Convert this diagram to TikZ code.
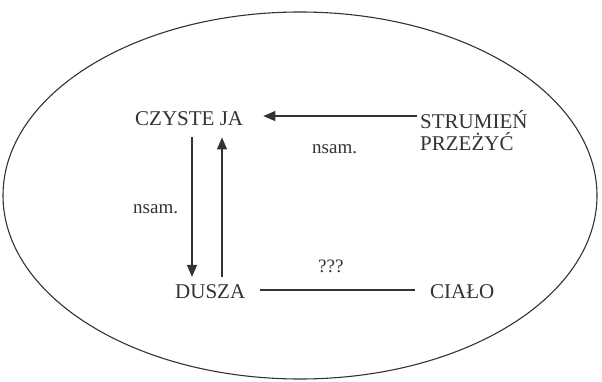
\documentclass[tikz,border=0pt]{standalone}
\usepackage{fontspec}
\setmainfont{Liberation Serif}
\usetikzlibrary{arrows.meta}
\definecolor{ink}{HTML}{333333}
\tikzset{
  label text/.style={inner sep=0pt, anchor=base west, text=ink,
    font=\fontsize{21}{22}\selectfont},
  small text/.style={inner sep=0pt, anchor=base west, text=ink,
    font=\fontsize{19}{22}\selectfont},
  arr/.style={draw=ink, line width=1.2pt, -{Triangle[length=12pt,width=10pt]}},
  plain/.style={draw=ink, line width=1.2pt},
}
\begin{document}
\begin{tikzpicture}[x=1pt,y=1pt]
  \useasboundingbox (0,0) rectangle (602,381);
  % enclosing ellipse
  \draw[draw=ink, line width=1.1pt] (300,185.5) ellipse [x radius=297, y radius=183.5];

  % concepts
  \node[label text] (cz) at (135,255) {CZYSTE JA};
  \node[label text, anchor=north west, align=left] (st) at (420,271) {STRUMIEŃ\\PRZEŻYĆ};
  \node[label text] (du) at (175,83) {DUSZA};
  \node[label text] (ci) at (430,83) {CIAŁO};

  % relation labels
  \node[small text] (n1) at (312,228) {nsam.};
  \node[small text] (n2) at (133,168) {nsam.};
  \node[small text] (q) at (318,109) {???};

  % connectors
  \draw[arr] ([xshift=-3pt,yshift=3.1pt]cz.east -| st.west) -- ([xshift=20pt,yshift=3.1pt]cz.east);
  \draw[arr] ([xshift=57pt,yshift=-11pt]cz.south west) -- ([xshift=17pt,yshift=7pt]du.north west);
  \draw[arr] ([xshift=47pt,yshift=7pt]du.north west) -- ([xshift=87pt,yshift=-11pt]cz.south west);
  \draw[plain] ([xshift=15pt,yshift=1.1pt]du.east) -- ([xshift=-15pt,yshift=1.1pt]du.east -| ci.west);
\end{tikzpicture}
\end{document}
